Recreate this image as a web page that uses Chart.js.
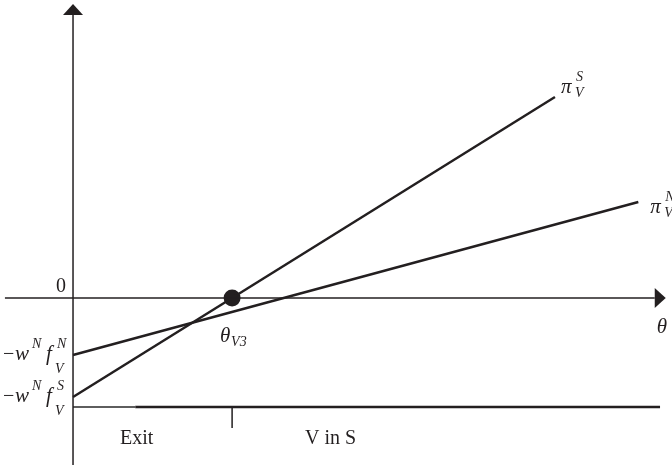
<!DOCTYPE html>
<html>
<head>
<meta charset="utf-8">
<script src="https://cdn.jsdelivr.net/npm/chart.js@4.4.0/dist/chart.umd.min.js"></script>
<style>
  html, body { margin: 0; padding: 0; background: #fff; }
  #chart { display: block; }
</style>
</head>
<body>
<canvas id="chart" width="672" height="469"></canvas>
<script>
// profit lines pi_V^S and pi_V^N (theta, profit)
const piSTheta = [0, 8.21];
const piSValues = [-3.3, 6.7];
const piNTheta = [0, 9.63];
const piNValues = [-1.9, 3.2];

// threshold theta_V3 and region bar below the axis
const thetaV3 = 2.71;
const regionLevel = -3.63;
const regionTick = -4.33;
const exitEnd = 1.06;
const regionEnd = 10;

// axes extents
const xAxisRange = [-1.16, 9.91];
const yAxisRange = [-5.57, 9.43];

const INK = '#231f20';

function pts(xs, ys) {
  return xs.map((x, i) => ({ x: x, y: ys[i] }));
}

const labelsPlugin = {
  id: 'labels',
  afterDraw(chart) {
    const ctx = chart.ctx;
    const sx = chart.scales.x;
    const sy = chart.scales.y;
    const px = v => sx.getPixelForValue(v);
    const py = v => sy.getPixelForValue(v);
    ctx.save();
    ctx.fillStyle = INK;

    // arrow heads
    const ox = px(0), oy = py(0);
    const yTop = py(yAxisRange[1]);
    ctx.beginPath();
    ctx.moveTo(ox, yTop - 11);
    ctx.lineTo(ox - 10, yTop);
    ctx.lineTo(ox + 10, yTop);
    ctx.closePath();
    ctx.fill();
    const xEnd = px(xAxisRange[1]);
    ctx.beginPath();
    ctx.moveTo(xEnd + 11, oy);
    ctx.lineTo(xEnd, oy - 10);
    ctx.lineTo(xEnd, oy + 10);
    ctx.closePath();
    ctx.fill();

    const serif = '"Liberation Serif", "DejaVu Serif", serif';
    const big = 'italic 21px ' + serif;
    const small = 'italic 14px ' + serif;
    const plain = '20px ' + serif;
    ctx.textBaseline = 'alphabetic';
    ctx.textAlign = 'left';

    // 0 label
    ctx.font = plain;
    ctx.fillText('0', ox - 17, oy - 6);

    // theta on the axis
    ctx.font = big;
    ctx.fillText('\u03b8', xEnd + 2, oy + 35);

    // theta_V3
    ctx.font = big;
    ctx.fillText('\u03b8', px(thetaV3) - 12, oy + 44);
    ctx.font = small;
    ctx.fillText('V3', px(thetaV3) - 1, oy + 48);

    // pi_V^S
    const sEndX = px(piSTheta[1]), sEndY = py(piSValues[1]);
    ctx.font = big;
    ctx.fillText('\u03c0', sEndX + 6, sEndY - 4);
    ctx.font = small;
    ctx.fillText('S', sEndX + 21, sEndY - 16);
    ctx.fillText('V', sEndX + 20, sEndY);

    // pi_V^N
    const nEndX = px(piNTheta[1]), nEndY = py(piNValues[1]);
    ctx.font = big;
    ctx.fillText('\u03c0', nEndX + 12, nEndY + 11);
    ctx.font = small;
    ctx.fillText('N', nEndX + 27, nEndY - 1);
    ctx.fillText('V', nEndX + 26, nEndY + 15);

    // intercept labels
    function intercept(val, sup) {
      const y = py(val);
      ctx.font = plain;
      ctx.fillText('\u2212', 3, y + 5);
      ctx.font = big;
      ctx.fillText('w', 15, y + 5);
      ctx.font = small;
      ctx.fillText('N', 32, y - 7);
      ctx.font = big;
      ctx.fillText('f', 46, y + 5);
      ctx.font = small;
      ctx.fillText(sup, 57, y - 7);
      ctx.fillText('V', 55, y + 18);
    }
    intercept(piNValues[0], 'N');
    intercept(piSValues[0], 'S');

    // region labels
    ctx.font = plain;
    ctx.fillText('Exit', 120, py(regionLevel) + 37);
    ctx.fillText('V in S', 305, py(regionLevel) + 37);

    ctx.restore();
  }
};

const lineDs = (data, color, width) => ({
  data: data,
  showLine: true,
  borderColor: color,
  borderWidth: width,
  pointRadius: 0,
  fill: false
});

new Chart(document.getElementById('chart').getContext('2d'), {
  type: 'scatter',
  data: {
    datasets: [
      lineDs([{ x: xAxisRange[0], y: 0 }, { x: xAxisRange[1], y: 0 }], INK, 1.5),
      lineDs([{ x: 0, y: yAxisRange[0] }, { x: 0, y: yAxisRange[1] }], INK, 1.5),
      lineDs(pts(piSTheta, piSValues), INK, 2.5),
      lineDs(pts(piNTheta, piNValues), INK, 2.5),
      lineDs([{ x: 0, y: regionLevel }, { x: exitEnd, y: regionLevel }], '#5e5e5e', 2),
      lineDs([{ x: exitEnd, y: regionLevel }, { x: regionEnd, y: regionLevel }], INK, 2.5),
      lineDs([{ x: thetaV3, y: regionLevel }, { x: thetaV3, y: regionTick }], INK, 1.5),
      {
        data: [{ x: thetaV3, y: 0 }],
        pointRadius: 8.5,
        pointBackgroundColor: INK,
        pointBorderColor: INK,
        borderWidth: 0
      }
    ]
  },
  options: {
    responsive: false,
    animation: false,
    layout: { padding: 0, autoPadding: false },
    plugins: { legend: { display: false }, tooltip: { enabled: false } },
    scales: {
      x: { type: 'linear', display: false, min: -1.244, max: 10.204 },
      y: { type: 'linear', display: false, min: -5.7, max: 9.933 }
    }
  },
  plugins: [labelsPlugin]
});
</script>
</body>
</html>
